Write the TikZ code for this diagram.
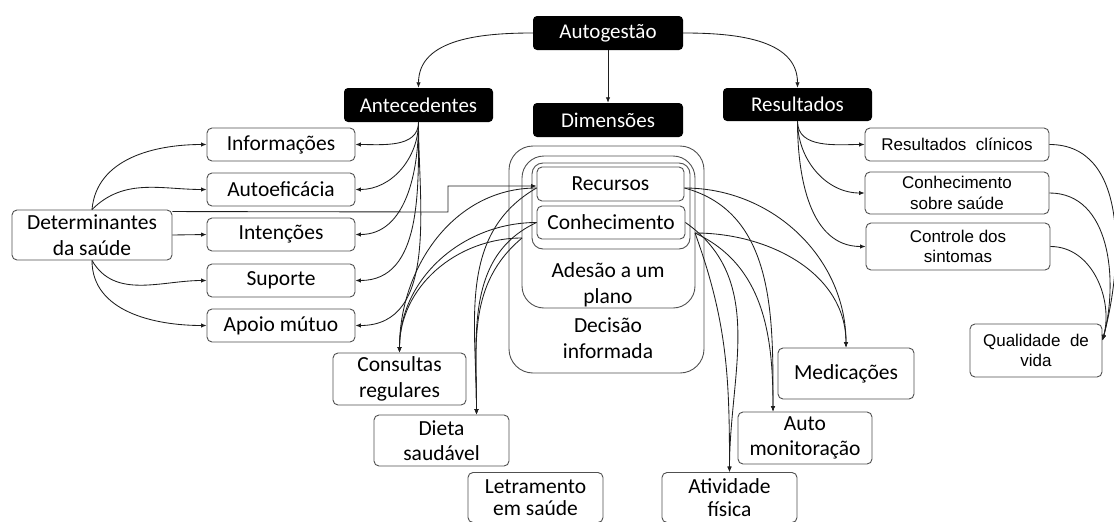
\documentclass[tikz,border=0pt]{standalone}
\usepackage{fontspec}
\setmainfont{Carlito}
\newfontfamily\arialf{Liberation Sans}
\usetikzlibrary{arrows.meta}
\definecolor{boxgray}{RGB}{80,80,80}
\definecolor{lgray}{RGB}{30,30,30}
\begin{document}
\begin{tikzpicture}[x=1pt,y=-1pt,
  hdr/.style={fill=black, rounded corners=4pt, text=white, inner sep=0pt,
    font=\fontsize{21}{24}\selectfont, minimum width=150, minimum height=34},
  wbox/.style={draw=boxgray, line width=0.9pt, rounded corners=5pt, fill=white,
    inner sep=0pt, align=center, font=\fontsize{21.5}{25.5}\selectfont},
  lowbox/.style={wbox, font=\fontsize{21.5}{22.5}\selectfont},
  abox/.style={draw=boxgray, line width=0.9pt, rounded corners=5pt, fill=white,
    inner sep=0pt, align=center, font=\arialf\fontsize{17}{20.5}\selectfont},
  cont/.style={draw=boxgray, line width=0.9pt},
  ctext/.style={inner sep=0pt, align=center, font=\fontsize{21.5}{26}\selectfont},
  conn/.style={draw=lgray, line width=0.85pt, -{Latex[length=5.5pt,width=4.5pt]}}
]
\useasboundingbox (0,0) rectangle (1114,522);

% containers
\draw[cont, rounded corners=24pt] (509,146) rectangle (704,373);
\draw[cont, rounded corners=22pt] (522,156) rectangle (695,308);
\draw[cont, rounded corners=11pt] (532,163) rectangle (690,249);
\node[ctext] (adesaotxt) at (608,284.5) {Adesão a um\\plano};
\node[ctext] (decisaotxt) at (608,338) {Decisão\\informada};

% header boxes
\node[hdr] (autog) at (608,33) {Autogestão};
\node[hdr, minimum width=149] (ante) at (418.5,105) {Antecedentes};
\node[hdr] (dimen) at (608,120) {Dimensões};
\node[hdr, minimum width=149, minimum height=33] (resul) at (797.5,104.5) {Resultados};

% antecedentes
\node[wbox, minimum width=148, minimum height=33] (info) at (281,144.5) {Informações};
\node[wbox, minimum width=148, minimum height=33] (autoef) at (281,189.5) {Autoeficácia};
\node[wbox, minimum width=148, minimum height=33] (inten) at (281,234.5) {Intenções};
\node[wbox, minimum width=148, minimum height=33] (suporte) at (281,280.5) {Suporte};
\node[wbox, minimum width=148, minimum height=33] (apoio) at (281,325.5) {Apoio mútuo};
\node[wbox, minimum width=160, minimum height=50] (determ) at (92,235) {Determinantes\\da saúde};

% dimensions
\node[wbox, minimum width=147, minimum height=34] (recursos) at (610.5,184) {Recursos};
\node[wbox, minimum width=148, minimum height=33] (conhec) at (611,222.5) {Conhecimento};

% resultados
\node[abox, minimum width=184, minimum height=33] (rclin) at (957,144.5) {Resultados\ \ clínicos};
\node[abox, minimum width=184, minimum height=42] (rcon) at (957,193) {Conhecimento\\sobre saúde};
\node[abox, minimum width=184, minimum height=47] (rctrl) at (958,246.5) {Controle dos\\sintomas};
\node[abox, minimum width=132, minimum height=53] (qual) at (1036,350.5) {Qualidade\ \ de\\vida};

% practices
\node[wbox, minimum width=133, minimum height=52] (consult) at (399.5,379) {Consultas\\regulares};
\node[wbox, minimum width=135, minimum height=51] (dieta) at (441.5,440.5) {Dieta\\saudável};
\node[lowbox, minimum width=135, minimum height=50] (letram) at (535.5,497.5) {Letramento\\em saúde};
\node[lowbox, minimum width=135, minimum height=50] (ativ) at (729.5,497.5) {Atividade\\física};
\node[wbox, minimum width=134, minimum height=52] (auto) at (805,438) {Auto\\monitoração};
\node[wbox, minimum width=136, minimum height=51] (medic) at (846,373.5) {Medicações};

\coordinate (cL) at (522,238);
\coordinate (cR) at (695,233);

% top level
\draw[conn] (autog.west) to[out=180,in=90] (ante.north);
\draw[conn] (autog.south) -- (dimen.north);
\draw[conn] (autog.east) to[out=0,in=90] (resul.north);

% antecedentes
\foreach \t in {info,autoef,inten,suporte,apoio}
  \draw[conn] (ante.south) to[out=-90,in=0] (\t.east);

% determinantes
\draw[conn] (determ.north) to[out=85,in=180] (info.west);
\draw[conn] (determ.north) to[out=45,in=180] (autoef.west);
\draw[conn] (determ.east) -- (inten.west);
\draw[conn] (determ.south) to[out=-60,in=180] (suporte.west);
\draw[conn] (determ.south) to[out=-90,in=180] (apoio.west);
\draw[conn] ([yshift=-2pt]determ.north east) -- (448,212) |- ([yshift=-2pt]recursos.west);

% resultados
\foreach \t in {rclin,rcon,rctrl}
  \draw[conn] (resul.south) to[out=-90,in=180] (\t.west);
\foreach \t in {rclin,rcon,rctrl}
  \draw[conn] (\t.east) to[out=0,in=75] ([yshift=10pt]qual.east);

% dimensions to practices (left)
\draw[conn] ([yshift=-4pt]recursos.west) to[out=180,in=90] (consult.north);
\draw[conn] ([yshift=-4pt]recursos.west) to[out=210,in=90] ([xshift=35pt]dieta.north);
\draw[conn] (conhec.west) to[out=180,in=90] (consult.north);
\draw[conn] (conhec.west) to[out=205,in=90] ([xshift=35pt]dieta.north);
\draw[conn] (cL) to[out=180,in=90] (consult.north);
\draw[conn] (cL) to[out=220,in=90] ([xshift=35pt]dieta.north);

% dimensions to practices (right)
\draw[conn] ([yshift=-4pt]recursos.east) to[out=0,in=90] (medic.north);
\draw[conn] ([yshift=-4pt]recursos.east) to[out=-15,in=90] ([xshift=-32pt]auto.north);
\draw[conn] (conhec.east) to[out=-35,in=90] (ativ.north);
\draw[conn] (cR) to[out=0,in=90] (medic.north);
\draw[conn] (cR) to[out=-25,in=90] ([xshift=-32pt]auto.north);
\draw[conn] (cR) to[out=-70,in=90] (ativ.north);
\end{tikzpicture}
\end{document}
